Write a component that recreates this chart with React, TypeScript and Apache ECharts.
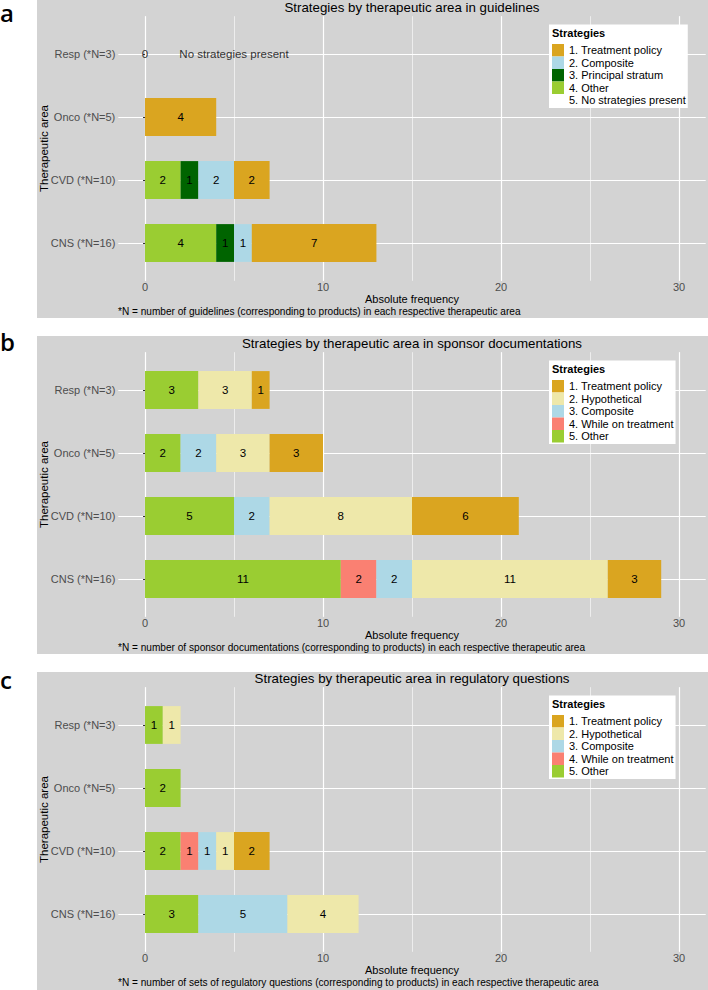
import React, { useEffect, useRef } from 'react';
import * as echarts from 'echarts';

// ---------- data ----------
// categories listed bottom -> top (ECharts category y axis starts at the bottom)
const CATEGORIES = ['CNS (*N=16)', 'CVD (*N=10)', 'Onco (*N=5)', 'Resp (*N=3)'];

const PANEL_LETTERS = ['a', 'b', 'c'];
const PANEL_TITLES = [
  'Strategies by therapeutic area in guidelines',
  'Strategies by therapeutic area in sponsor documentations',
  'Strategies by therapeutic area in regulatory questions',
];
const PANEL_CAPTIONS = [
  '*N = number of guidelines (corresponding to products) in each respective therapeutic area',
  '*N = number of sponsor documentations (corresponding to products) in each respective therapeutic area',
  '*N = number of sets of regulatory questions (corresponding to products) in each respective therapeutic area',
];

// Panel a: guidelines
const A_OTHER = [4, 2, null, null];
const A_PRINCIPAL = [1, 1, null, null];
const A_COMPOSITE = [1, 2, null, null];
const A_TREATMENT = [7, 2, 4, null];
const A_NONE_LABELS = [[0, 'Resp (*N=3)', '0'], [5, 'Resp (*N=3)', 'No strategies present']];

// Panel b: sponsor documentations
const B_OTHER = [11, 5, 2, 3];
const B_WHILE = [2, null, null, null];
const B_COMPOSITE = [2, 2, 2, null];
const B_HYPO = [11, 8, 3, 3];
const B_TREATMENT = [3, 6, 3, 1];

// Panel c: regulatory questions
const C_OTHER = [3, 2, 2, 1];
const C_WHILE = [null, 1, null, null];
const C_COMPOSITE = [5, 1, null, null];
const C_HYPO = [4, 1, null, 1];
const C_TREATMENT = [null, 2, null, null];

const LEGEND_A = ['1. Treatment policy', '2. Composite', '3. Principal stratum', '4. Other', '5. No strategies present'];
const LEGEND_BC = ['1. Treatment policy', '2. Hypothetical', '3. Composite', '4. While on treatment', '5. Other'];

// ---------- style ----------
const COL = {
  treatment: '#DAA520',
  hypo: '#EEE8AA',
  composite: '#ADD8E6',
  whileOn: '#FA8072',
  other: '#9ACD32',
  principal: '#006400',
};
const FONT = 'Liberation Sans, Arial, sans-serif';
const BG = '#d3d3d3';
const TXT_GRAY = '#4d4d4d';

const GRAY_TOP = [0, 336, 672];
const OY = [0, 336, 671];
const LEFT = 118.3;
const RIGHT = 2.3;
const PANEL_TOP = 16.2;
const PANEL_H = 264.6;
const BAND = 63;

function buildOption() {
  const grid: any[] = [];
  const xAxis: any[] = [];
  const yAxis: any[] = [];
  const series: any[] = [];
  const legend: any[] = [];
  const graphic: any[] = [];

  const barSeries = (p: number, name: string, data: any[], color: string) => ({
    type: 'bar',
    name,
    data,
    stack: 'stack' + p,
    xAxisIndex: 3 * p + 2,
    yAxisIndex: 2 * p + 1,
    barWidth: '60%',
    itemStyle: { color },
    silent: true,
    emphasis: { disabled: true },
    label: {
      show: true,
      position: 'inside',
      color: '#000',
      fontSize: 11.5,
      fontFamily: FONT,
    },
  });

  for (let p = 0; p < 3; p++) {
    const oy = OY[p];
    grid.push({ left: LEFT, right: RIGHT, top: oy + PANEL_TOP, height: PANEL_H, outerBoundsMode: 'none', containLabel: false });
    grid.push({ left: LEFT, right: RIGHT, top: oy + PANEL_TOP + (PANEL_H - 4 * BAND) / 2, height: 4 * BAND, outerBoundsMode: 'none', containLabel: false });

    xAxis.push({
      gridIndex: 2 * p,
      type: 'value',
      min: -1.5,
      max: 31.5,
      splitNumber: 3,
      axisLine: { show: false },
      axisTick: { show: false },
      axisLabel: {
        show: true,
        showMinLabel: false,
        showMaxLabel: false,
        color: TXT_GRAY,
        fontSize: 11,
        fontFamily: FONT,
        margin: 1,
      },
      splitLine: { show: true, showMinLine: false, showMaxLine: false, lineStyle: { color: '#ffffff', width: 1.2 } },
    });
    xAxis.push({
      gridIndex: 2 * p,
      type: 'value',
      min: -1.5,
      max: 31.5,
      splitNumber: 6,
      position: 'bottom',
      axisLine: { show: false },
      axisTick: { show: false },
      axisLabel: { show: false },
      splitLine: { show: true, showMinLine: false, showMaxLine: false, lineStyle: { color: '#ffffff', width: 0.6 } },
    });
    xAxis.push({ gridIndex: 2 * p + 1, type: 'value', min: -1.5, max: 31.5, show: false });

    yAxis.push({
      gridIndex: 2 * p,
      type: 'value',
      min: 0.4,
      max: 4.6,
      splitNumber: 4,
      axisLine: { show: false },
      axisTick: { show: false },
      axisLabel: { show: false },
      splitLine: { show: true, showMinLine: false, showMaxLine: false, lineStyle: { color: '#ffffff', width: 1.2 } },
    });
    yAxis.push({
      gridIndex: 2 * p + 1,
      type: 'category',
      data: CATEGORIES,
      axisLine: { show: false },
      axisTick: { show: true, alignWithLabel: true, length: 2, lineStyle: { color: '#333333', width: 1 } },
      axisLabel: { color: TXT_GRAY, fontSize: 11, fontFamily: FONT, margin: 3 },
      splitLine: { show: false },
    });

    legend.push({
      orient: 'vertical',
      left: 549,
      top: oy + 24.5,
      itemWidth: 12,
      itemHeight: 12.5,
      itemGap: 0,
      icon: 'rect',
      padding: [19.5, 2, 1.5, 3],
      backgroundColor: '#ffffff',
      selectedMode: false,
      textStyle: { fontSize: 11, color: '#000', fontFamily: FONT, lineHeight: 12.5 },
      data: p === 0 ? LEGEND_A : LEGEND_BC,
    });

    graphic.push({
      type: 'rect',
      z: -10,
      shape: { x: 37, y: GRAY_TOP[p], width: 708 - 37, height: 318 },
      style: { fill: BG },
      silent: true,
    });
    graphic.push({
      type: 'text',
      z: 100,
      x: 0,
      y: [12.5, 341.6, 679.6][p],
      style: {
        text: PANEL_LETTERS[p],
        fill: '#000',
        fontSize: 24,
        fontWeight: 600,
        fontFamily: 'Open Sans, Noto Sans, sans-serif',
        textAlign: 'left', align: 'left',
        textVerticalAlign: 'middle', verticalAlign: 'middle',
      },
    });
    graphic.push({
      type: 'text',
      z: 100,
      x: 412,
      y: oy + 7,
      style: {
        text: PANEL_TITLES[p],
        fill: '#000',
        fontSize: 13.3,
        fontFamily: FONT,
        textAlign: 'center', align: 'center',
        textVerticalAlign: 'middle', verticalAlign: 'middle',
      },
    });
    graphic.push({
      type: 'text',
      z: 100,
      x: 412,
      y: oy + 298.5,
      style: {
        text: 'Absolute frequency',
        fill: '#000',
        fontSize: 11,
        fontFamily: FONT,
        textAlign: 'center', align: 'center',
        textVerticalAlign: 'middle', verticalAlign: 'middle',
      },
    });
    graphic.push({
      type: 'text',
      z: 100,
      x: 118,
      y: oy + 311,
      style: {
        text: PANEL_CAPTIONS[p],
        fill: '#000',
        fontSize: 10.1,
        fontFamily: FONT,
        textAlign: 'left', align: 'left',
        textVerticalAlign: 'middle', verticalAlign: 'middle',
      },
    });
    graphic.push({
      type: 'text',
      z: 100,
      x: 44,
      y: oy + 148.5,
      rotation: Math.PI / 2,
      style: {
        text: 'Therapeutic area',
        fill: '#000',
        fontSize: 11.5,
        fontFamily: FONT,
        textAlign: 'center', align: 'center',
        textVerticalAlign: 'middle', verticalAlign: 'middle',
      },
    });
    graphic.push({
      type: 'text',
      z: 100,
      x: 552,
      y: oy + 33,
      style: {
        text: 'Strategies',
        fill: '#000',
        fontSize: 11,
        fontWeight: 'bold',
        fontFamily: FONT,
        textAlign: 'left', align: 'left',
        textVerticalAlign: 'middle', verticalAlign: 'middle',
      },
    });
  }

  series.push(barSeries(0, '4. Other', A_OTHER, COL.other));
  series.push(barSeries(0, '3. Principal stratum', A_PRINCIPAL, COL.principal));
  series.push(barSeries(0, '2. Composite', A_COMPOSITE, COL.composite));
  series.push(barSeries(0, '1. Treatment policy', A_TREATMENT, COL.treatment));
  series.push({
    type: 'scatter',
    name: '5. No strategies present',
    xAxisIndex: 2,
    yAxisIndex: 1,
    data: A_NONE_LABELS,
    symbolSize: 1,
    itemStyle: { color: 'rgba(255,255,255,0)' },
    silent: true,
    emphasis: { disabled: true },
    label: {
      show: true,
      position: 'inside',
      color: '#000',
      fontSize: 11.5,
      fontFamily: FONT,
      formatter: (pr: any) => String(pr.value[2]),
    },
  });

  series.push(barSeries(1, '5. Other', B_OTHER, COL.other));
  series.push(barSeries(1, '4. While on treatment', B_WHILE, COL.whileOn));
  series.push(barSeries(1, '3. Composite', B_COMPOSITE, COL.composite));
  series.push(barSeries(1, '2. Hypothetical', B_HYPO, COL.hypo));
  series.push(barSeries(1, '1. Treatment policy', B_TREATMENT, COL.treatment));

  series.push(barSeries(2, '5. Other', C_OTHER, COL.other));
  series.push(barSeries(2, '4. While on treatment', C_WHILE, COL.whileOn));
  series.push(barSeries(2, '3. Composite', C_COMPOSITE, COL.composite));
  series.push(barSeries(2, '2. Hypothetical', C_HYPO, COL.hypo));
  series.push(barSeries(2, '1. Treatment policy', C_TREATMENT, COL.treatment));

  return {
    animation: false,
    backgroundColor: '#ffffff',
    textStyle: { fontFamily: FONT },
    grid,
    xAxis,
    yAxis,
    legend,
    graphic,
    series,
  };
}

export default function App() {
  const ref = useRef<HTMLDivElement>(null);
  useEffect(() => {
    if (!ref.current) return;
    const chart = echarts.init(ref.current, null, { renderer: 'svg' });
    chart.setOption(buildOption());
    return () => chart.dispose();
  }, []);
  return (
    <div
      ref={ref}
      style={{ position: 'absolute', left: 0, top: 0, width: 708, height: 990 }}
    />
  );
}
